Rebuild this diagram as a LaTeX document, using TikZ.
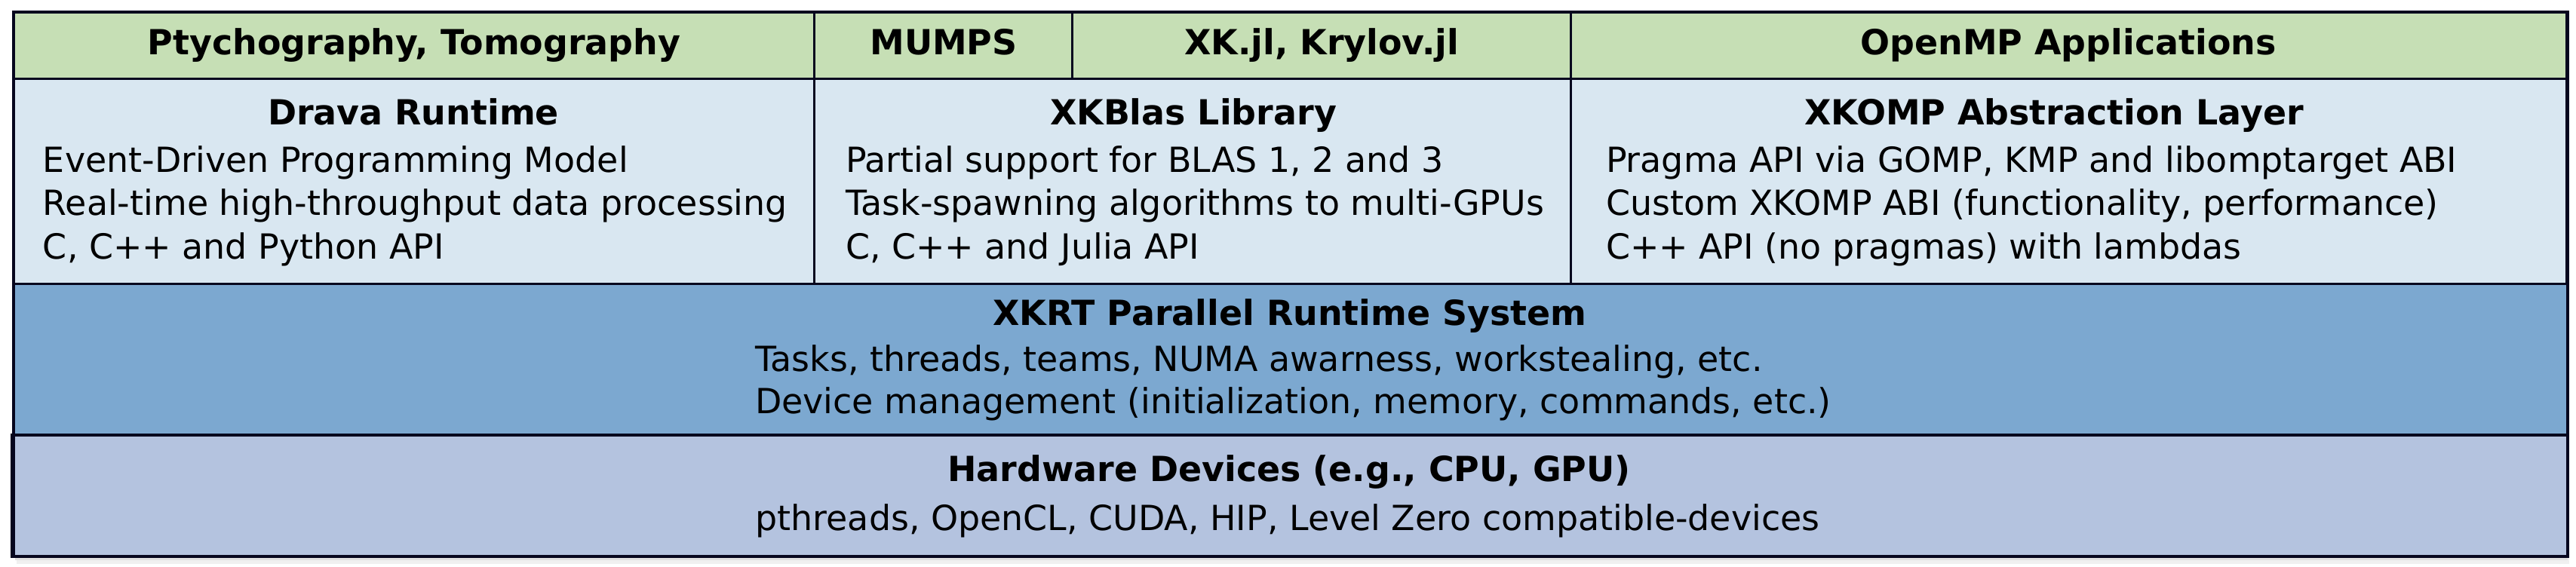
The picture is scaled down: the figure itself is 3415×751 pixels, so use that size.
\documentclass[tikz,border=0pt]{standalone}
\usepackage{fontspec}
\setmainfont{DejaVu Sans}
\definecolor{appgreen}{HTML}{C6DFB5}
\definecolor{libblue}{HTML}{D9E7F1}
\definecolor{rtblue}{HTML}{7CA8D0}
\definecolor{hwblue}{HTML}{B4C3DF}
\definecolor{edge}{HTML}{06061E}
\begin{document}
\begin{tikzpicture}[x=0.01cm,y=-0.01cm,
  cell/.style={draw=edge,line width=0.85pt,rectangle,inner sep=0pt,outer sep=0pt},
  txt/.style={inner sep=0pt,outer sep=0pt,font=\fontsize{13.05}{16.4}\selectfont},
  head/.style={txt,font=\fontsize{13.05}{16.4}\selectfont\bfseries,anchor=base},
  line/.style={txt,anchor=base west},
  cline/.style={txt,anchor=base}]
\useasboundingbox[fill=white] (0,0) rectangle (3415,751);
% soft shadow
\fill[black!6] (22,24) rectangle (3406,748);
\fill[black!12] (20,20) rectangle (3404,743);
% top row: applications
\node[cell,fill=appgreen,minimum width=10.62cm,minimum height=0.89cm] (ptycho) at (549,60.5) {};
\node[cell,fill=appgreen,minimum width=3.42cm,minimum height=0.89cm] (mumps) at (1251,60.5) {};
\node[cell,fill=appgreen,minimum width=6.61cm,minimum height=0.89cm] (xkjl) at (1752.5,60.5) {};
\node[cell,fill=appgreen,minimum width=13.19cm,minimum height=0.89cm] (ompapp) at (2742.5,60.5) {};
% second row: libraries
\node[cell,fill=libblue,minimum width=10.62cm,minimum height=2.72cm] (drava) at (549,241) {};
\node[cell,fill=libblue,minimum width=10.03cm,minimum height=2.72cm] (xkblas) at (1581.5,241) {};
\node[cell,fill=libblue,minimum width=13.19cm,minimum height=2.72cm] (xkomp) at (2742.5,241) {};
% runtime
\node[cell,fill=rtblue,minimum width=33.84cm,minimum height=2.00cm] (xkrt) at (1710,477) {};
% hardware
\node[cell,fill=hwblue,line width=1.15pt,minimum width=33.86cm,minimum height=1.61cm] (hw) at (1710,657.5) {};
% outer frame
\draw[edge,line width=1.15pt] (ptycho.north west) rectangle (hw.south east);
% texts, top row
\node[head] (tptycho) at (549,72) {Ptychography, Tomography};
\node[head] (tmumps) at (1251,72) {MUMPS};
\node[head] (txkjl) at (1752,72) {XK.jl, Krylov.jl};
\node[head] (tomp) at (2742,72) {OpenMP Applications};
% Drava
\node[head] (hdrava) at (548,165) {Drava Runtime};
\node[line] (d1) at (57,228) {Event-Driven Programming Model};
\node[line] (d2) at (57,285.5) {Real-time high-throughput data processing};
\node[line] (d3) at (57,343) {C, C++ and Python API};
% XKBlas
\node[head] (hxkblas) at (1582,165) {XKBlas Library};
\node[line] (b1) at (1121,228) {Partial support for BLAS 1, 2 and 3};
\node[line] (b2) at (1121,285.5) {Task-spawning algorithms to multi-GPUs};
\node[line] (b3) at (1121,343) {C, C++ and Julia API};
% XKOMP
\node[head] (hxkomp) at (2723,165) {XKOMP Abstraction Layer};
\node[line] (o1) at (2129,228) {Pragma API via GOMP, KMP and libomptarget ABI};
\node[line] (o2) at (2129,285.5) {Custom XKOMP ABI (functionality, performance)};
\node[line] (o3) at (2129,343) {C++ API (no pragmas) with lambdas};
% XKRT
\node[head] (hxkrt) at (1710,431) {XKRT Parallel Runtime System};
\node[line] (r1) at (1001,492) {Tasks, threads, teams, NUMA awarness, workstealing, etc.};
\node[line] (r2) at (1001,548) {Device management (initialization, memory, commands, etc.)};
% Hardware
\node[head] (hhw) at (1709,638) {Hardware Devices (e.g., CPU, GPU)};
\node[cline] (h1) at (1707,703) {pthreads, OpenCL, CUDA, HIP, Level Zero compatible-devices};
\end{tikzpicture}
\end{document}
